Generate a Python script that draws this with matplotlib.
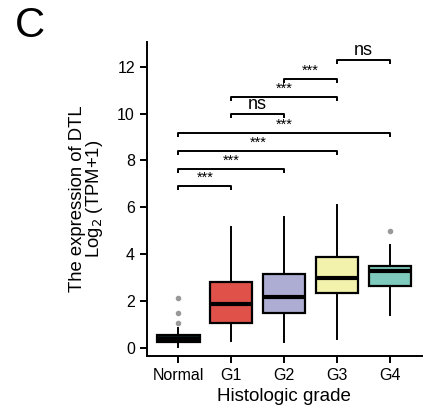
import numpy as np
import matplotlib
matplotlib.use("Agg")
import matplotlib.pyplot as plt

plt.rcParams['font.family'] = ['Liberation Sans', 'DejaVu Sans']

# box statistics per histologic grade
groups = ['Normal', 'G1', 'G2', 'G3', 'G4']
q1 = [0.23, 1.04, 1.47, 2.32, 2.63]
medians = [0.38, 1.87, 2.19, 2.99, 3.27]
q3 = [0.54, 2.82, 3.15, 3.86, 3.49]
whislo = [0.04, 0.30, 0.23, 0.36, 1.40]
whishi = [0.83, 5.17, 5.60, 6.08, 4.38]
fliers = [[1.07, 1.50, 2.13], [], [], [], [4.98]]
colors = ['#0c1c1e', '#E0514A', '#ADADD3', '#F2F2AC', '#7ECABC']

# pairwise comparisons: (group a, group b, bracket height, label)
comparisons = [
    (0, 1, 6.90, '***'),
    (0, 2, 7.64, '***'),
    (0, 3, 8.41, '***'),
    (0, 4, 9.18, '***'),
    (1, 2, 9.98, 'ns'),
    (1, 3, 10.72, '***'),
    (2, 3, 11.49, '***'),
    (3, 4, 12.28, 'ns'),
]

fig = plt.figure(figsize=(4.33, 4.18), dpi=100)
ax = fig.add_axes([0.3388, 0.1483, 0.6352, 0.7519])

stats = []
for i, g in enumerate(groups):
    stats.append({'label': g, 'q1': q1[i], 'med': medians[i], 'q3': q3[i],
                  'whislo': whislo[i], 'whishi': whishi[i], 'fliers': fliers[i]})

pos = np.arange(1, len(groups) + 1)
bp = ax.bxp(stats, positions=pos, widths=0.8, patch_artist=True, showcaps=False,
            boxprops=dict(linewidth=1.6, edgecolor='black'),
            medianprops=dict(color='black', linewidth=3),
            whiskerprops=dict(color='black', linewidth=1.4),
            flierprops=dict(marker='o', markersize=3, markerfacecolor='#999999',
                            markeredgecolor='#999999'))
for patch, c in zip(bp['boxes'], colors):
    patch.set_facecolor(c)

tick_h = 0.17
for a, b, h, lab in comparisons:
    xa, xb = pos[a], pos[b]
    ax.plot([xa, xa, xb, xb], [h - tick_h, h, h, h - tick_h], color='black',
            linewidth=1.4, solid_capstyle='butt', clip_on=False)
    if lab == 'ns':
        ax.text((xa + xb) / 2, h + 0.05, lab, ha='center', va='bottom', fontsize=13)
    else:
        ax.text((xa + xb) / 2, h + 0.05, lab, ha='center', va='bottom', fontsize=10.5)

ax.set_xlim(0.4, 5.6)
ax.set_ylim(-0.35, 13.07)
ax.set_yticks([0, 2, 4, 6, 8, 10, 12])
ax.set_xticks(pos)
ax.set_xticklabels(groups)
ax.spines['top'].set_visible(False)
ax.spines['right'].set_visible(False)
for s in ['left', 'bottom']:
    ax.spines[s].set_linewidth(1.4)
ax.tick_params(axis='both', labelsize=11.5, width=1.4, length=5, colors='black')
ax.set_xlabel('Histologic grade', fontsize=13.5, labelpad=4)
ax.set_ylabel('The expression of DTL\nLog$_2$ (TPM+1)', fontsize=13.3, labelpad=9,
              linespacing=0.85)

fig.text(0.035, 0.985, 'C', fontsize=30, ha='left', va='top')

fig.savefig('out.png', dpi=100)
